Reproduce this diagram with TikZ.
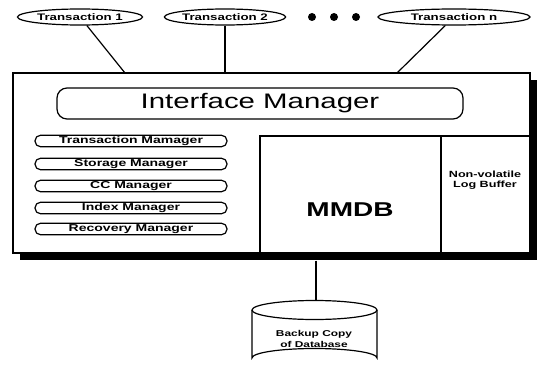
\documentclass[tikz,border=0pt]{standalone}
\usepackage{fontspec}
\setmainfont{Liberation Sans}[FakeStretch=1.4]
\usetikzlibrary{calc,shapes.geometric}
\tikzset{
  trans/.style={draw, ellipse, inner sep=0pt, minimum width=125pt, minimum height=16pt, font=\fontsize{9.5}{10}\selectfont\bfseries},
  mgr/.style={draw, rounded corners=5.5pt, inner sep=0pt, minimum width=192pt, minimum height=11.5pt, font=\fontsize{10}{10}\selectfont\bfseries},
}

\begin{document}
\begin{tikzpicture}[x=1pt, y=-1pt, line width=1.2pt]
				\useasboundingbox (0,0) rectangle (546,369);
				
				\node[trans] (t1) at (80,17) {Transaction 1};
				\node[trans, minimum width=120pt] (t2) at (225,17) {Transaction 2};
				\node[trans, minimum width=152pt] (tn) at (454,17) {Transaction n};
				\fill (312,17) circle (4) (334,17) circle (4) (356,17) circle (4);
				
				\fill[black] (20,80) rectangle (537,260);
				\draw[fill=white] (13,73) rectangle (530,253);
				\node[inner sep=0pt, minimum width=517pt, minimum height=180pt] (main) at (271.5,163) {};
				
				\coordinate (in1) at (125,73);
				\coordinate (in2) at (225,73);
				\coordinate (inn) at (397,73);
				\draw (t1) -- (in1);
				\draw (t2) -- (in2);
				\draw (tn) -- (inn);
				
				\node[draw, rounded corners=10pt, minimum width=406pt, minimum height=31pt, font=\fontsize{21}{24}\selectfont] (ifm) at (260,103.5) {Interface Manager};
				
				\node[mgr] (tm) at (131,141) {Transaction Mamager};
				\node[mgr] (sm) at (131,164) {Storage Manager};
				\node[mgr] (cc) at (131,186) {CC Manager};
				\node[mgr] (im) at (131,208) {Index Manager};
				\node[mgr] (rm) at (131,229) {Recovery Manager};
				
				\draw (260,136) rectangle (441,253);
				\draw (441,136) -- (530,136);
				\node[font=\fontsize{20}{24}\selectfont\bfseries] (mmdb) at (350,210) {MMDB};
				\node[align=center, font=\fontsize{9}{10.5}\selectfont\bfseries] (log) at (485,180) {Non-volatile\\Log Buffer};
				
				\draw (252,310) -- (252,358) arc (180:360:62.5 and 9.5) -- (377,310);
				\draw (314.5,310) ellipse (62.5 and 9.5);
				\coordinate (dbtop) at (316,300.5);
				\node[align=center, font=\fontsize{8.5}{11}\selectfont\bfseries] (backup) at (314,339) {Backup Copy\\of Database};
				\draw (main.south -| dbtop) ++(0,7) -- (dbtop);
			\end{tikzpicture}
\end{document}
